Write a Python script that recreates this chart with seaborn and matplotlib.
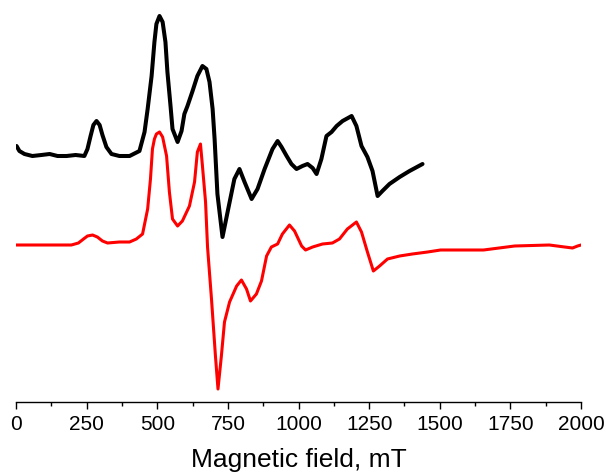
import pandas as pd
import seaborn as sns
import matplotlib
import matplotlib.pyplot as plt
from matplotlib.ticker import MultipleLocator

matplotlib.use('Agg')

# Experimental spectrum (black), field in mT, intensity in arbitrary units
exp_field = [2, 12, 30, 58, 90, 119, 147, 179, 211, 242, 253, 264, 274, 285, 296,
             306, 320, 338, 366, 402, 437, 455, 466, 480, 490, 497, 508, 519, 529,
             536, 547, 554, 572, 586, 596, 607, 625, 642, 660, 674, 685, 696, 703,
             713, 731, 749, 773, 791, 809, 834, 855, 880, 908, 926, 940, 958, 975,
             993, 1014, 1032, 1050, 1064, 1081, 1099, 1117, 1135, 1156, 1188, 1205,
             1223, 1244, 1262, 1280, 1297, 1322, 1358, 1393, 1439]
exp_signal = [256, 251, 248, 246, 247, 248, 246, 246, 247, 246, 253, 266, 277, 281, 277,
              267, 255, 248, 246, 246, 251, 270, 293, 326, 360, 378, 386, 380, 360,
              330, 296, 273, 260, 271, 288, 296, 311, 326, 336, 333, 320, 293, 263,
              208, 165, 190, 223, 233, 220, 203, 213, 233, 253, 261, 255, 246, 238,
              233, 236, 238, 234, 228, 243, 266, 270, 276, 281, 286, 276,
              256, 245, 231, 206, 211, 218, 225, 231, 238]

# Simulated spectrum (red)
sim_field = [0, 83, 154, 196, 221, 239, 253, 271, 288, 306, 324, 366, 402, 426, 448,
             466, 476, 483, 490, 497, 508, 519, 533, 543, 554, 572, 589, 614, 632,
             642, 653, 660, 671, 678, 692, 706, 715, 727, 738, 756, 781, 798, 816,
             830, 851, 869, 887, 904, 926, 943, 968, 986, 1011, 1025, 1050, 1085,
             1120, 1145, 1173, 1205, 1223, 1244, 1265, 1287, 1315, 1358, 1403, 1457,
             1503, 1655, 1765, 1888, 1942, 1970, 1988, 2000]
sim_signal = [157, 157, 157, 157, 159, 163, 166, 167, 165, 161, 159, 160, 160, 163, 168,
              193, 223, 253, 263, 268, 270, 265, 246, 210, 183, 176, 181, 196, 220,
              250, 258, 236, 200, 155, 103, 46, 13, 46, 80, 100, 116, 122, 113,
              101, 108, 121, 146, 155, 158, 168, 177, 171, 156, 152, 155, 158,
              159, 163, 173, 180, 170, 150, 131, 136, 143, 146, 148, 150,
              152, 152, 156, 157, 155, 154, 156, 157]

exp_df = pd.DataFrame({'field': exp_field, 'signal': exp_signal})
sim_df = pd.DataFrame({'field': sim_field, 'signal': sim_signal})

sns.set_style("ticks")
plt.rcParams['font.family'] = ['Liberation Sans', 'DejaVu Sans']

fig = plt.figure(figsize=(6.06, 4.77), dpi=100)
ax = fig.add_axes([16 / 606, 1 - 403 / 477, 565 / 606, 393 / 477])

sns.lineplot(data=exp_df, x='field', y='signal', color='black', linewidth=2.9,
             sort=False, estimator=None, ax=ax)
sns.lineplot(data=sim_df, x='field', y='signal', color='#ff0000', linewidth=2.2,
             sort=False, estimator=None, ax=ax)

ax.set_xlim(0, 2000)
ax.set_ylim(0, 393)
ax.xaxis.set_major_locator(MultipleLocator(250))
ax.xaxis.set_minor_locator(MultipleLocator(125))
ax.tick_params(axis='x', which='major', direction='out', length=5, width=1,
               labelsize=15, pad=4, colors='black')
ax.tick_params(axis='x', which='minor', direction='out', length=3, width=1,
               colors='black')
ax.set_yticks([])
ax.set_ylabel('')
ax.set_xlabel('Magnetic field, mT', fontsize=19, labelpad=10, color='black')
for side in ['left', 'right', 'top']:
    ax.spines[side].set_visible(False)
ax.spines['bottom'].set_linewidth(1)
ax.spines['bottom'].set_color('black')

plt.savefig('out.png', dpi=100)
